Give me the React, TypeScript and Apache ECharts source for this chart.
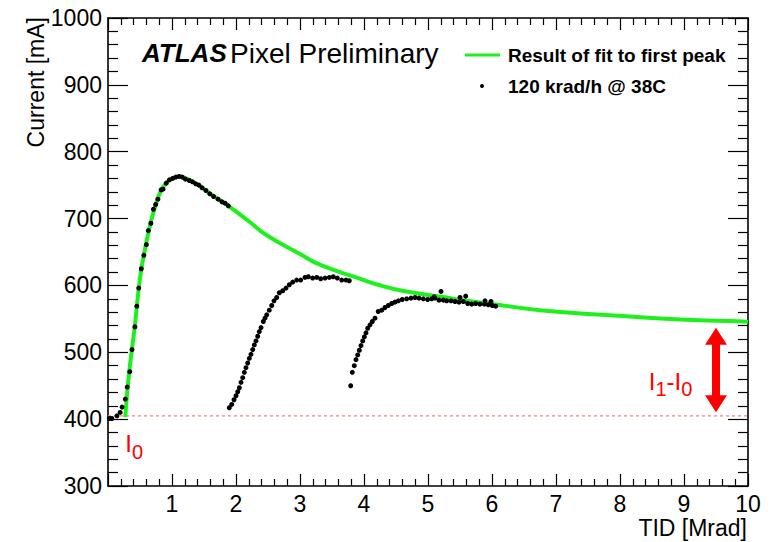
import React, { useEffect, useRef } from "react";
import * as echarts from "echarts";

const FONT = "'Liberation Sans', Arial, Helvetica, sans-serif";

const X_MIN = 0;
const X_MAX = 10;
const X_STEP = 1;
const Y_MIN = 300;
const Y_MAX = 1000;
const Y_STEP = 100;

const X_TITLE = "TID [Mrad]";
const Y_TITLE = "Current [mA]";
const LEGEND_FIT = "Result of fit to first peak";
const LEGEND_DATA = "120 krad/h @ 38C";

// Baseline current I0
const I0 = 405;

// Fit to the first peak (green curve)
const FIT: number[][] = [
  [0.27, 403], [0.3, 440], [0.34, 478], [0.375, 505], [0.42, 540], [0.48, 595],
  [0.52, 624], [0.56, 645], [0.6, 665], [0.67, 695], [0.75, 722], [0.83, 742],
  [0.91, 753], [1.0, 760], [1.1, 763], [1.2, 761], [1.4, 751], [1.6, 737],
  [1.88, 719], [2.2, 696], [2.48, 675], [3.0, 647], [3.31, 631], [3.91, 611],
  [4.22, 601], [4.6, 592], [5.21, 583], [5.6, 577], [6.02, 572], [6.75, 563],
  [7.9, 555], [8.94, 549], [9.93, 546], [10, 545.5],
];

// Measured current, first run (0 – 1.9 Mrad)
const RUN_A: number[][] = [
  [0.02, 401], [0.06, 401], [0.14, 405], [0.19, 410], [0.22, 418], [0.27, 430],
  [0.3, 448], [0.34, 471], [0.375, 504], [0.42, 538], [0.45, 569], [0.48, 596],
  [0.52, 625], [0.56, 645], [0.6, 661], [0.63, 682], [0.67, 693], [0.71, 714],
  [0.745, 721], [0.78, 729], [0.83, 743], [0.86, 744], [0.91, 753], [0.96, 758],
  [1.01, 760], [1.06, 762], [1.11, 763], [1.16, 762], [1.21, 759], [1.27, 757],
  [1.32, 755], [1.37, 752], [1.42, 750], [1.47, 746], [1.53, 742], [1.59, 737],
  [1.65, 733], [1.72, 729], [1.78, 725], [1.83, 723], [1.88, 719],
];

// Second run (1.9 – 3.8 Mrad)
const RUN_B: number[][] = [
  [1.895, 417], [1.933, 422], [1.969, 429], [2.0, 435], [2.027, 441], [2.052, 447],
  [2.078, 455], [2.105, 462], [2.13, 470], [2.156, 477], [2.183, 484], [2.208, 491],
  [2.234, 497], [2.261, 504], [2.286, 511], [2.312, 517], [2.339, 524], [2.364, 531],
  [2.391, 537], [2.427, 546], [2.453, 551], [2.48, 556], [2.52, 563], [2.558, 570],
  [2.594, 577], [2.636, 582], [2.677, 589], [2.73, 592], [2.781, 596], [2.833, 601],
  [2.886, 605], [2.948, 608], [3.011, 608], [3.078, 612], [3.13, 613], [3.198, 611],
  [3.261, 612], [3.323, 610], [3.391, 611], [3.458, 612], [3.52, 613], [3.583, 611],
  [3.652, 608], [3.719, 608], [3.77, 607],
];

// Third run (3.8 – 6.1 Mrad)
const RUN_C: number[][] = [
  [3.792, 450], [3.817, 470], [3.848, 480], [3.875, 489], [3.902, 496], [3.927, 503],
  [3.953, 510], [3.98, 517], [4.005, 523], [4.031, 529], [4.058, 536], [4.094, 541],
  [4.13, 546], [4.172, 551], [4.223, 561], [4.277, 563], [4.328, 567], [4.38, 570],
  [4.433, 573], [4.484, 575], [4.536, 577], [4.598, 579], [4.667, 580], [4.734, 581],
  [4.797, 582], [4.859, 581], [4.927, 580], [4.995, 579], [5.058, 580], [5.098, 583],
  [5.109, 581], [5.172, 578], [5.203, 591], [5.239, 578], [5.292, 577], [5.359, 577],
  [5.422, 576], [5.484, 575], [5.5, 582], [5.552, 576], [5.589, 584], [5.62, 573],
  [5.683, 572], [5.745, 573], [5.812, 572], [5.88, 572], [5.891, 577], [5.942, 571],
  [5.984, 576], [6.005, 570], [6.058, 569],
];

// Annotation positions (data coordinates)
const ARROW_X = 9.5;
const ARROW_TOP = 524;
const ARROW_BOTTOM = 423;
const LABEL_I0_POS = [0.41, 363];
const LABEL_I1_POS = [8.79, 457];

const GRID = { left: 108, right: 23, top: 18, bottom: 56 };

function makeXAxis(position: "bottom" | "top", showLabel: boolean) {
  return {
    type: "value",
    min: X_MIN,
    max: X_MAX,
    interval: X_STEP,
    position,
    axisLine: { show: true, onZero: false, lineStyle: { color: "#000", width: 1.6 } },
    axisTick: { show: true, inside: true, length: 12, lineStyle: { color: "#000", width: 1.2 } },
    minorTick: { show: true, splitNumber: 5, length: 7, lineStyle: { color: "#000", width: 1.2 } },
    splitLine: { show: false },
    minorSplitLine: { show: false },
    axisLabel: {
      show: showLabel,
      margin: 6,
      fontSize: 23,
      color: "#000",
      fontFamily: FONT,
      formatter: (v: number) => (v === 0 ? "" : String(v)),
    },
  };
}

function makeYAxis(position: "left" | "right", showLabel: boolean) {
  return {
    type: "value",
    min: Y_MIN,
    max: Y_MAX,
    interval: Y_STEP,
    position,
    axisLine: { show: true, onZero: false, lineStyle: { color: "#000", width: 1.6 } },
    axisTick: { show: true, inside: true, length: 20, lineStyle: { color: "#000", width: 1.2 } },
    minorTick: { show: true, splitNumber: 5, length: 10, lineStyle: { color: "#000", width: 1.2 } },
    splitLine: { show: false },
    minorSplitLine: { show: false },
    axisLabel: {
      show: showLabel,
      margin: 6,
      fontSize: 23,
      color: "#000",
      fontFamily: FONT,
      formatter: (v: number) => String(v),
    },
  };
}

const scatterSeries = (name: string, data: number[][]) => ({
  name,
  type: "scatter",
  data,
  symbol: "circle",
  symbolSize: 5,
  itemStyle: { color: "#000", opacity: 1 },
  z: 4,
  silent: true,
});

export default function App() {
  const ref = useRef<HTMLDivElement>(null);

  useEffect(() => {
    if (!ref.current) return;
    const chart = echarts.init(ref.current, null, { renderer: "svg" });
    const redRich = {
      i: { fontSize: 24, color: "#ff0000", fontFamily: FONT },
      s: { fontSize: 20, color: "#ff0000", fontFamily: FONT, padding: [16, 0, 0, 0] },
    };
    chart.setOption({
      animation: false,
      backgroundColor: "#fff",
      grid: { ...GRID, containLabel: false, outerBoundsMode: "none" },
      xAxis: [makeXAxis("bottom", true), makeXAxis("top", false)],
      yAxis: [makeYAxis("left", true), makeYAxis("right", false)],
      series: [
        {
          name: "I0",
          type: "line",
          data: [[X_MIN, I0], [X_MAX, I0]],
          symbol: "none",
          lineStyle: { color: "#ff8080", width: 1.2, type: [3, 3] },
          z: 1,
          silent: true,
          markLine: {
            silent: true,
            symbol: ["triangle", "triangle"],
            symbolSize: [22, 17],
            label: { show: false },
            lineStyle: { color: "#ff0000", width: 8, type: "solid" },
            emphasis: { disabled: true },
            data: [[{ coord: [ARROW_X, ARROW_TOP] }, { coord: [ARROW_X, ARROW_BOTTOM] }]],
          },
          markPoint: {
            silent: true,
            symbol: "rect",
            symbolSize: 1,
            itemStyle: { color: "transparent" },
            label: {
              show: true,
              position: "inside",
              rich: redRich,
            },
            data: [
              { coord: LABEL_I0_POS, label: { formatter: "{i|I}{s|0}" } },
              { coord: LABEL_I1_POS, label: { formatter: "{i|I}{s|1}{i|-I}{s|0}" } },
            ],
          },
        },
        {
          name: LEGEND_FIT,
          type: "line",
          data: FIT,
          smooth: 0.5,
          symbol: "none",
          lineStyle: { color: "#1ef01e", width: 4 },
          z: 2,
          silent: true,
        },
        scatterSeries(LEGEND_DATA, RUN_A),
        scatterSeries(LEGEND_DATA, RUN_B),
        scatterSeries(LEGEND_DATA, RUN_C),
      ],
      graphic: [
        {
          type: "text",
          left: 142,
          top: 39,
          style: {
            text: "{a|ATLAS} {b|Pixel Preliminary}",
            rich: {
              a: { fontSize: 26, fontWeight: "bold", fontStyle: "italic", fontFamily: FONT, fill: "#000" },
              b: { fontSize: 28, fontFamily: FONT, fill: "#000" },
            },
          },
        },
        {
          type: "line",
          shape: { x1: 465, y1: 55, x2: 500, y2: 55 },
          style: { stroke: "#1ef01e", lineWidth: 3 },
        },
        {
          type: "text",
          x: 508,
          y: 55,
          style: {
            text: LEGEND_FIT,
            fontSize: 19,
            fontWeight: "bold",
            fontFamily: FONT,
            fill: "#000",
            verticalAlign: "middle",
            align: "left",
          },
        },
        {
          type: "circle",
          shape: { cx: 482, cy: 86, r: 2 },
          style: { fill: "#000" },
        },
        {
          type: "text",
          x: 508,
          y: 86,
          style: {
            text: LEGEND_DATA,
            fontSize: 19,
            fontWeight: "bold",
            fontFamily: FONT,
            fill: "#000",
            verticalAlign: "middle",
            align: "left",
          },
        },
        {
          type: "text",
          x: 747,
          y: 528,
          style: {
            text: X_TITLE,
            fontSize: 23,
            fontFamily: FONT,
            fill: "#000",
            align: "right",
            verticalAlign: "middle",
          },
        },
        {
          type: "text",
          x: 36,
          y: 17,
          rotation: Math.PI / 2,
          style: {
            text: Y_TITLE,
            fontSize: 23,
            fontFamily: FONT,
            fill: "#000",
            align: "right",
            verticalAlign: "middle",
          },
        },
      ],
    });
    return () => chart.dispose();
  }, []);

  return (
    <div
      ref={ref}
      style={{ position: "fixed", left: 0, top: 0, width: 771, height: 542, background: "#fff" }}
    />
  );
}
